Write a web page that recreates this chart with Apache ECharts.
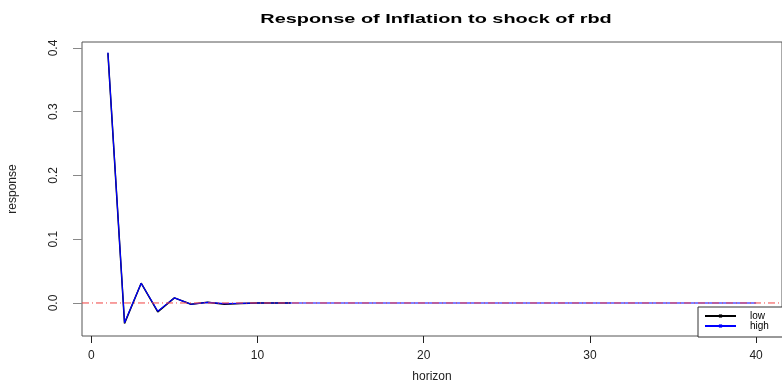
<!DOCTYPE html>
<html>
<head>
<meta charset="utf-8">
<script src="https://cdn.jsdelivr.net/npm/echarts@6/dist/echarts.min.js"></script>
<style>
  html, body { margin: 0; padding: 0; background: #fff; }
  #irfChart { width: 782px; height: 382px; }
</style>
</head>
<body>
<div id="irfChart"></div>
<script>
// horizon steps and the two response bands (low / high)
var horizon = [1, 2, 3, 4, 5, 6, 7, 8, 9, 10, 11, 12, 13, 14, 15, 16, 17, 18, 19, 20,
  21, 22, 23, 24, 25, 26, 27, 28, 29, 30, 31, 32, 33, 34, 35, 36, 37, 38, 39, 40];
var lowResp = [0.392, -0.032, 0.031, -0.014, 0.008, -0.002, 0.001, -0.002, -0.001, 0.0, 0.0, 0.0];
var highResp = [0.393, -0.031, 0.031, -0.013, 0.008, -0.002, 0.001, -0.001, -0.0005, 0.0, 0.0, 0.0,
  0, 0, 0, 0, 0, 0, 0, 0, 0, 0, 0, 0, 0, 0, 0, 0, 0, 0, 0, 0, 0, 0, 0, 0, 0, 0, 0, 0];
var xTicks = [0, 10, 20, 30, 40];
var yTicks = [0, 0.1, 0.2, 0.3, 0.4];
var xRange = [-0.56, 41.56];
var zeroLevel = 0;

var chartDom = document.getElementById('irfChart');
var myChart = echarts.init(chartDom, null, { renderer: 'canvas' });
var font = 'Liberation Sans, Arial, sans-serif';

function pairs(ys) {
  return ys.map(function (y, i) { return [horizon[i], y]; });
}

var option = {
  animation: false,
  textStyle: { fontFamily: font },
  // title drawn as graphic text so it can be stretched like the R output
  graphic: [{
    type: 'text',
    x: 436,
    y: 19,
    scaleX: 1.53,
    style: {
      text: 'Response of Inflation to shock of rbd',
      fontSize: 13,
      fontWeight: 'bold',
      fontFamily: font,
      fill: '#000',
      align: 'center',
      verticalAlign: 'middle'
    }
  }],
  grid: {
    left: 82, top: 42, right: 0, bottom: 46,
    outerBoundsMode: 'none',
    containLabel: false,
    show: true, borderColor: '#555', borderWidth: 1, backgroundColor: 'transparent'
  },
  legend: {
    orient: 'vertical',
    left: 698, top: 307,
    padding: [4, 30, 6, 6],
    itemGap: 0,
    itemWidth: 31,
    itemHeight: 4,
    borderColor: '#333',
    borderWidth: 1,
    borderRadius: 0,
    backgroundColor: '#fff',
    textStyle: { fontSize: 10, lineHeight: 9, color: '#000', fontFamily: font, padding: [0, 0, 0, 9] },
    data: ['low', 'high']
  },
  xAxis: {
    type: 'value',
    min: xRange[0],
    max: xRange[1],
    name: 'horizon',
    nameLocation: 'middle',
    nameGap: 35,
    nameTextStyle: { fontSize: 12, color: '#222' },
    axisLine: { show: false, onZero: false },
    splitLine: { show: false },
    axisTick: { show: true, customValues: xTicks, length: 7, lineStyle: { color: '#222' } },
    axisLabel: { show: true, customValues: xTicks, margin: 14, fontSize: 12, color: '#222' }
  },
  yAxis: {
    type: 'value',
    min: -0.0518,
    max: 0.4094,
    name: 'response',
    nameLocation: 'middle',
    nameGap: 63,
    nameRotate: 90,
    nameTextStyle: { fontSize: 12, color: '#222' },
    axisLine: { show: false, onZero: false },
    splitLine: { show: false },
    axisTick: { show: true, customValues: yTicks, length: 9, lineStyle: { color: '#888' } },
    axisLabel: {
      show: true, customValues: yTicks, rotate: 90, margin: 22, fontSize: 12, color: '#222',
      formatter: function (v) { return v.toFixed(1); }
    }
  },
  series: [
    {
      name: 'low',
      type: 'line',
      data: pairs(lowResp),
      showSymbol: false,
      symbol: 'rect',
      itemStyle: { color: '#000' },
      lineStyle: { color: '#000', width: 1.5 },
      z: 2
    },
    {
      name: 'high',
      type: 'line',
      data: pairs(highResp),
      showSymbol: false,
      symbol: 'rect',
      itemStyle: { color: '#0000ff' },
      lineStyle: { color: '#0000ff', width: 1.2 },
      z: 3
    },
    {
      // horizontal reference at zero (abline)
      name: 'zero',
      type: 'line',
      data: [[xRange[0], zeroLevel], [xRange[1], zeroLevel]],
      showSymbol: false,
      silent: true,
      clip: true,
      itemStyle: { color: '#f04040' },
      lineStyle: { color: '#f04040', width: 1, type: [7, 3, 1, 3] },
      z: 5
    }
  ]
};

myChart.setOption(option);
</script>
</body>
</html>
